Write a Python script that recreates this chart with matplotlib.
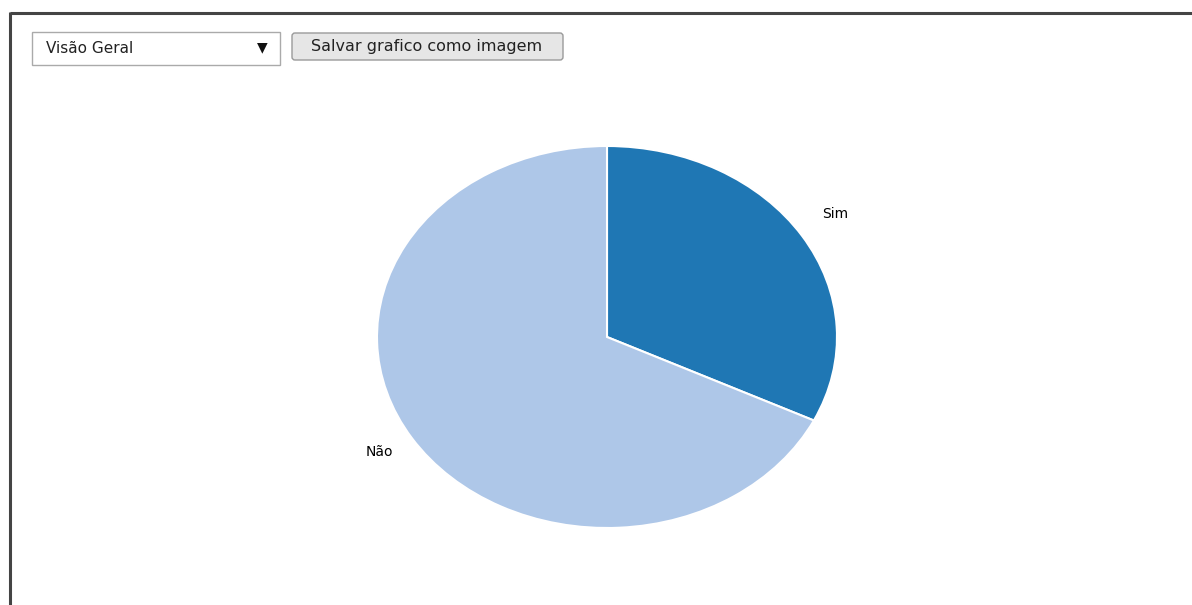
import numpy as np
import matplotlib.pyplot as plt
import matplotlib.transforms as mtransforms
from matplotlib.patches import Rectangle, FancyBboxPatch

# dados do grafico
labels = ["Sim", "Não"]
values = [32.2, 67.8]
colors = ["#1f77b4", "#aec7e8"]

W, H = 1192, 605
fig = plt.figure(figsize=(W / 100, H / 100), dpi=100)
fig.patch.set_facecolor("white")

# camada de interface em pixels
ui = fig.add_axes([0, 0, 1, 1])
ui.set_xlim(0, W)
ui.set_ylim(H, 0)
ui.axis("off")

# moldura
ui.plot([9.5, 9.5], [12, H], color="#444444", lw=2.2, solid_capstyle="butt")
ui.plot([9.5, W], [12.5, 12.5], color="#444444", lw=2.2, solid_capstyle="butt")

# dropdown
ui.add_patch(Rectangle((32, 32), 248, 33, facecolor="white", edgecolor="#aaaaaa", lw=1))
ui.text(46, 48.5, "Visão Geral", fontsize=11, va="center", ha="left", color="#222222")
ui.text(262, 47, "▼", fontsize=10, va="center", ha="center", color="#111111")

# botao
ui.add_patch(FancyBboxPatch((292, 33), 271, 27, boxstyle="round,pad=0,rounding_size=3",
                            facecolor="#e6e6e6", edgecolor="#9a9a9a", lw=1))
ui.text(427, 46.5, "Salvar grafico como imagem", fontsize=11.5, va="center", ha="center",
        color="#222222")

# pizza (eliptica)
cx, cy, rx, ry = 607, 337, 230, 191
ax = fig.add_axes([(cx - rx) / W, (H - cy - ry) / H, 2 * rx / W, 2 * ry / H])
wedges, texts = ax.pie(values, labels=labels, colors=colors, startangle=90,
                       counterclock=False, labeldistance=1.17,
                       wedgeprops=dict(edgecolor="white", linewidth=1.5),
                       textprops=dict(fontsize=10, color="black"))
ax.set_aspect("auto")
ax.set_xlim(-1, 1)
ax.set_ylim(-1, 1)
ax.axis("off")
for t in texts:
    t.set_ha("center")
    t.set_va("center")
    t.set_transform(mtransforms.offset_copy(ax.transData, fig=fig, x=0, y=4, units="dots"))

fig.savefig("out.png", dpi=100)
